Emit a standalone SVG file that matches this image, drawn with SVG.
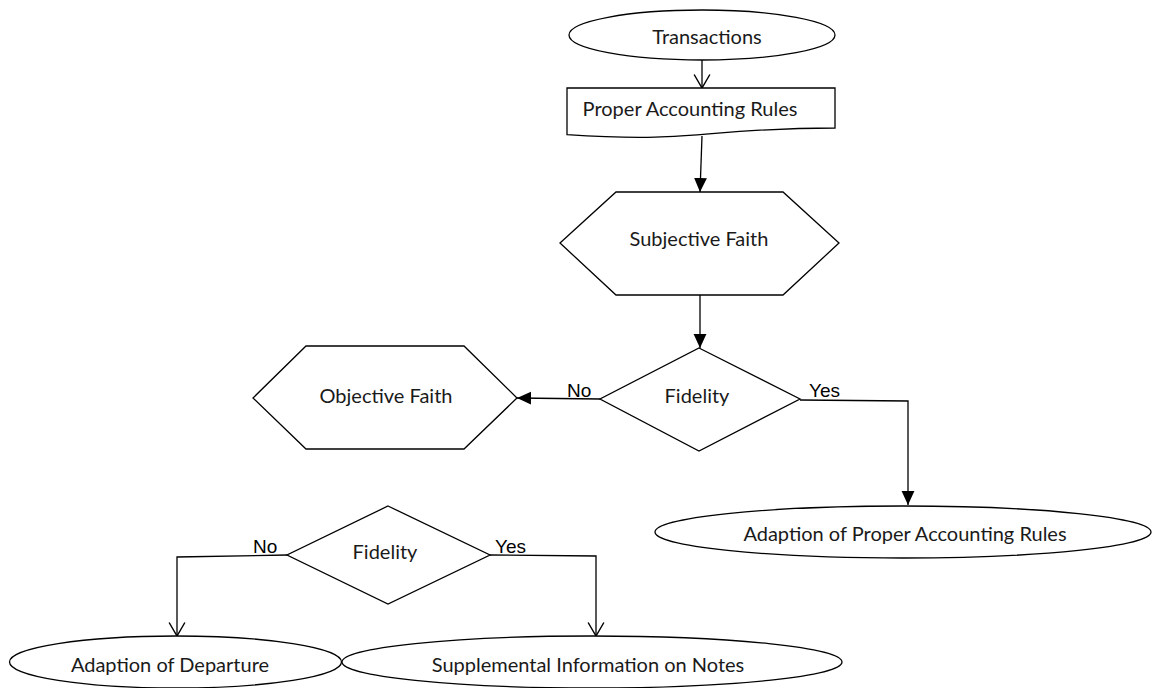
<svg xmlns="http://www.w3.org/2000/svg" width="1152" height="688" viewBox="0 0 1152 688">
<style>
.shape{fill:#fff;stroke:#000;stroke-width:1.3}
.conn{fill:none;stroke:#000;stroke-width:1.3}
.t{font-family:Lato,"Open Sans",sans-serif;font-size:20px;fill:#1a1a1a;text-anchor:middle}
.yn{font-family:"Liberation Sans",Arial,sans-serif;font-size:19px;fill:#000}
</style>
<defs>
<marker id="filled" markerUnits="userSpaceOnUse" markerWidth="14" markerHeight="14" viewBox="0 0 12 12" refX="12" refY="6" orient="auto">
<path d="M0,0.5 L12,6 L0,11.5 Z" fill="#000"/>
</marker>
<marker id="open" markerUnits="userSpaceOnUse" markerWidth="16" markerHeight="18" viewBox="0 0 14 16" refX="13" refY="8" orient="auto">
<path d="M1,1 L13,8 L1,15" fill="none" stroke="#000" stroke-width="1.3"/>
</marker>
</defs>
<g id="connectors">
<path class="conn" d="M702,60 L702,88" marker-end="url(#open)"/>
<path class="conn" d="M702,136 L700,192" marker-end="url(#filled)"/>
<path class="conn" d="M700,295 L700,348" marker-end="url(#filled)"/>
<path class="conn" d="M600,399 L517,398" marker-end="url(#filled)"/>
<path class="conn" d="M800,400 L908,401 L908,505" marker-end="url(#filled)"/>
<path class="conn" d="M287,555 L177,557 L177,636" marker-end="url(#open)"/>
<path class="conn" d="M490,555 L596,556 L596,636" marker-end="url(#open)"/>
<text class="yn" x="567" y="397">No</text>
<text class="yn" x="809" y="397">Yes</text>
<text class="yn" x="253" y="553">No</text>
<text class="yn" x="495" y="553">Yes</text>
</g>
<g id="transactions">
<ellipse class="shape" cx="702" cy="35" rx="133" ry="25"/>
<text class="t" x="707" y="44">Transactions</text>
</g>
<g id="proper-rules">
<path class="shape" d="M567,88 H835 V128 C701,128 701,143.4 567,134.7 Z"/>
<text class="t" x="690" y="116">Proper Accounting Rules</text>
</g>
<g id="subjective-faith">
<path class="shape" d="M616,192 L783,192 L839,243 L783,295 L616,295 L560,243 Z"/>
<text class="t" x="699" y="246">Subjective Faith</text>
</g>
<g id="fidelity-1">
<path class="shape" d="M699,348 L800,399 L699,451 L600,399 Z"/>
<text class="t" x="697" y="403">Fidelity</text>
</g>
<g id="objective-faith">
<path class="shape" d="M306,346 L464,346 L517,398 L464,449 L306,449 L253,398 Z"/>
<text class="t" x="386" y="403">Objective Faith</text>
</g>
<g id="adaption-proper">
<ellipse class="shape" cx="903" cy="532" rx="248" ry="26"/>
<text class="t" x="905" y="541">Adaption of Proper Accounting Rules</text>
</g>
<g id="fidelity-2">
<path class="shape" d="M388,506 L490,555 L388,604 L287,555 Z"/>
<text class="t" x="385" y="559">Fidelity</text>
</g>
<g id="adaption-departure">
<ellipse class="shape" cx="175.5" cy="662" rx="166" ry="26"/>
<text class="t" x="170" y="672">Adaption of Departure</text>
</g>
<g id="supplemental">
<ellipse class="shape" cx="592" cy="662" rx="250" ry="26"/>
<text class="t" x="588" y="672">Supplemental Information on Notes</text>
</g>
</svg>
